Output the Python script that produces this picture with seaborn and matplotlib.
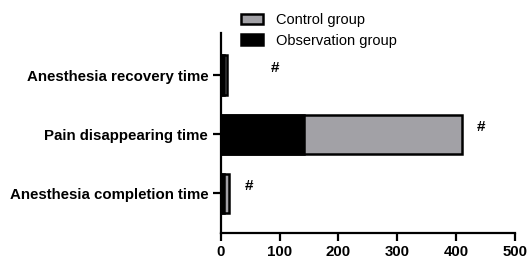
import matplotlib
matplotlib.use("Agg")
import matplotlib.pyplot as plt
import seaborn as sns
import pandas as pd
from matplotlib.patches import Patch

categories = ["Anesthesia recovery time", "Pain disappearing time", "Anesthesia completion time"]
control = [11, 411, 14]
observation = [5, 141, 6]
marks = ["#", "#", "#"]

sns.set_style("ticks")
plt.rcParams["font.family"] = ["Liberation Sans", "DejaVu Sans"]
plt.rcParams["text.color"] = "black"
plt.rcParams["xtick.color"] = "black"
plt.rcParams["ytick.color"] = "black"
plt.rcParams["axes.edgecolor"] = "black"

df = pd.DataFrame({"cat": categories, "control": control, "observation": observation})

fig = plt.figure(figsize=(5.28, 2.6), dpi=100)
ax = fig.add_axes([0.418, 0.104, 0.557, 0.769])

sns.barplot(data=df, y="cat", x="control", order=categories, color="#a2a1a6",
            edgecolor="black", linewidth=1.8, width=0.66, saturation=1, ax=ax)
sns.barplot(data=df, y="cat", x="observation", order=categories, color="black",
            edgecolor="black", linewidth=1.8, width=0.66, saturation=1, ax=ax)

# significance marks
mark_x = [92, 443, 48]
for i, m in enumerate(marks):
    ax.text(mark_x[i], i - 0.12, m, ha="center", va="center", fontsize=11, fontweight="bold")

ax.set_xlim(0, 500)
ax.set_ylim(2.67, -0.71)
ax.set_xticks([0, 100, 200, 300, 400, 500])
ax.set_xlabel("")
ax.set_ylabel("")
sns.despine(ax=ax)
for s in ["left", "bottom"]:
    ax.spines[s].set_linewidth(1.6)
ax.tick_params(axis="both", width=1.6, length=5.5, labelsize=10.8, colors="black")
for lab in ax.get_xticklabels() + ax.get_yticklabels():
    lab.set_fontweight("bold")

handles = [Patch(facecolor="#a2a1a6", edgecolor="black", linewidth=1.8, label="Control group"),
           Patch(facecolor="black", edgecolor="black", linewidth=1.8, label="Observation group")]
fig.legend(handles=handles, loc="upper left", bbox_to_anchor=(0.432, 1.0), frameon=False,
           fontsize=10.5, handlelength=1.5, handleheight=0.7, labelspacing=0.45, handletextpad=0.9)

fig.savefig("out.png", dpi=100)
